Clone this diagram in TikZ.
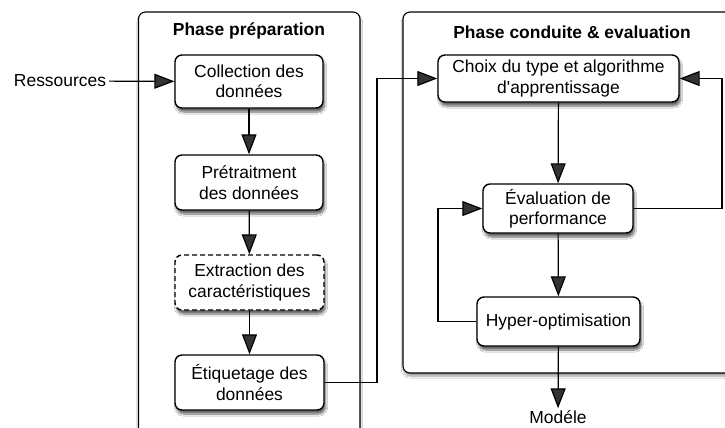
\documentclass[tikz,border=0pt]{standalone}
\usepackage{fontspec}
\setmainfont{Liberation Sans}[Ligatures=TeXOff]
\usetikzlibrary{arrows.meta,shadows,shadows.blur}
\tikzset{
  bigtip/.tip={Triangle[length=20bp,width=15bp]},
}
\begin{document}
\begin{tikzpicture}[x=1bp,y=1bp,
  every node/.style={font=\fontsize{17.5}{20.5}\selectfont},
  phase/.style={draw=black,line width=1.1bp,rounded corners=7bp,fill=white,
    blur shadow={shadow xshift=0.5bp,shadow yshift=-3bp,shadow blur steps=8,shadow opacity=40}},
  box/.style={draw=black,line width=1.4bp,rounded corners=7bp,fill=white,align=center,
    inner sep=2bp,
    blur shadow={shadow xshift=1.5bp,shadow yshift=-4bp,shadow blur steps=8,shadow opacity=60}},
  ttl/.style={font=\bfseries\fontsize{17.5}{20.5}\selectfont},
  arr/.style={line width=1.2bp,-bigtip},
]
\useasboundingbox (0,0) rectangle (725,-427);
\fill[white] (0,0) rectangle (725,-427);
% phase frames
\path[phase] (138.5,-12) rectangle (360,-450);
\path[phase] (403,-12) rectangle (745,-373);
\node[ttl] (t1) at (249,-31) {Phase préparation};
\node[ttl] (t2) at (572,-32) {Phase conduite \& evaluation};
% nodes left
\node[box,minimum width=148bp,minimum height=53bp] (coll) at (249,-81.5) {Collection des\\données};
\node[box,minimum width=148bp,minimum height=55bp] (pre) at (249,-182.5) {Prétraitment\\des données};
\node[box,dash pattern=on 5bp off 3bp,minimum width=149bp,minimum height=55bp] (ext) at (249.5,-282.5) {Extraction des\\caractéristiques};
\node[box,minimum width=149bp,minimum height=55bp] (eti) at (249.5,-382.5) {Étiquetage des\\données};
% nodes right
\node[box,minimum width=241bp,minimum height=47bp] (cho) at (558.5,-78.5) {Choix du type et algorithme\\d'apprentissage};
\node[box,minimum width=150bp,minimum height=49bp] (eva) at (558,-208.5) {Évaluation de\\performance};
\node[box,minimum width=163bp,minimum height=49bp] (hyp) at (558.5,-321.5) {Hyper-optimisation};
% free texts
\node[inner sep=3bp] (res) at (60,-81) {Ressources};
\node[inner sep=2bp] (mod) at (558,-417) {Modéle};
% helper coordinates
\coordinate (c1) at (377,-382.5);
\coordinate (c2) at (722,-208.5);
\coordinate (c3) at (438,-321.5);
% connectors
\draw[arr] (res) -- (coll);
\draw[arr] (coll) -- (pre);
\draw[arr] (pre) -- (ext);
\draw[arr] (ext) -- (eti);
\draw[arr] (eti.east) -- (c1) |- (cho.west);
\draw[arr] (cho) -- (eva);
\draw[arr] (eva.east) -- (c2) |- (cho.east);
\draw[arr] (eva) -- (hyp);
\draw[arr] (hyp.west) -- (c3) |- (eva.west);
\draw[arr] (hyp) -- (mod);
\end{tikzpicture}
\end{document}
